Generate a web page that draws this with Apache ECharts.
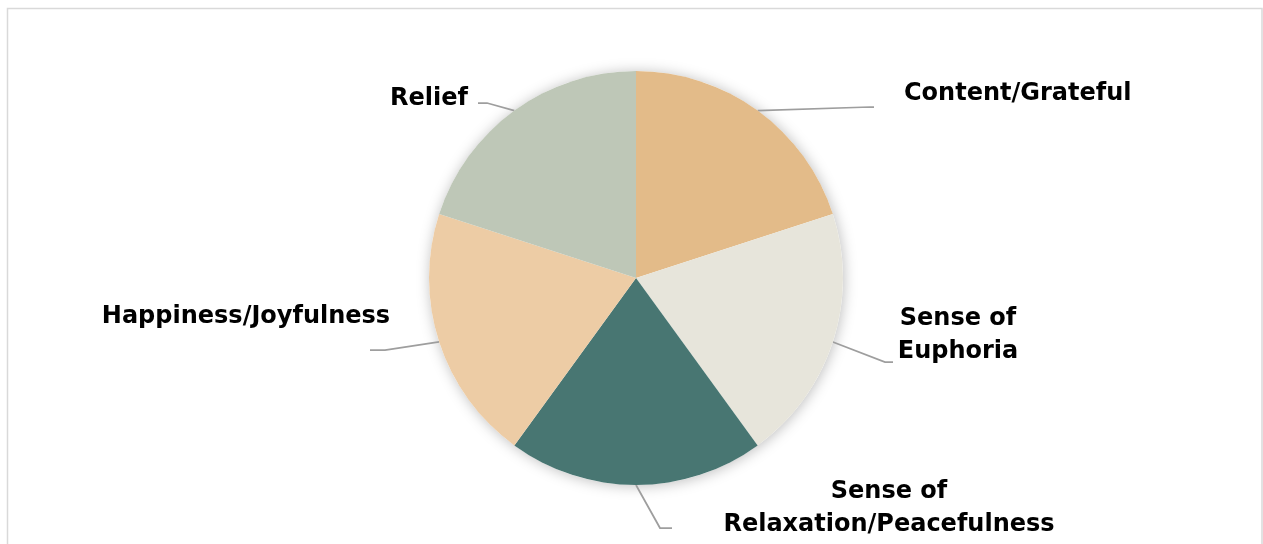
<!DOCTYPE html>
<html>
<head>
<meta charset="utf-8">
<script src="https://cdn.jsdelivr.net/npm/echarts@6/dist/echarts.min.js"></script>
<style>
  html, body { margin: 0; padding: 0; background: #ffffff; }
  #chart { width: 1263px; height: 544px; }
</style>
</head>
<body>
<div id="chart"></div>
<script>
// Emotions reported, equal shares
const categories = [
  'Content/Grateful',
  'Sense of Euphoria',
  'Sense of Relaxation/Peacefulness',
  'Happiness/Joyfulness',
  'Relief'
];
const shares = [20, 20, 20, 20, 20];
const sliceColors = ['#E3BB89', '#E7E5DB', '#487672', '#EDCCA5', '#BEC7B7'];

// Pie geometry
const PIE_CX = 636;
const PIE_CY = 278;
const PIE_R = 207;

// Callout placement per slice, relative to the pie centre:
// elbow of the leader line, its end, and the anchor of the text block.
const callouts = [
  { elbow: [234, -171], end: [238, -171], text: [268, -184], align: 'left' },
  { elbow: [249, 84],   end: [257, 84],   text: [322, 57],   align: 'center' },
  { elbow: [24, 250],   end: [36, 250],   text: [253, 230],  align: 'center' },
  { elbow: [-251, 72],  end: [-266, 72],  text: [-390, 39],  align: 'center' },
  { elbow: [-149, -175],end: [-158, -175],text: [-168, -179],align: 'right' }
];

const chart = echarts.init(document.getElementById('chart'));

chart.setOption({
  backgroundColor: '#ffffff',
  animation: false,
  graphic: [{
    type: 'rect',
    silent: true,
    shape: { x: 7.5, y: 8.5, width: 1254.5, height: 560 },
    style: { fill: 'none', stroke: '#D9D9D9', lineWidth: 1.5 }
  }],
  series: [
    {
      // soft shadow under the whole pie
      type: 'pie',
      silent: true,
      z: 1,
      center: [PIE_CX, PIE_CY],
      radius: PIE_R,
      label: { show: false },
      labelLine: { show: false },
      itemStyle: {
        color: '#ffffff',
        shadowBlur: 14,
        shadowColor: 'rgba(0,0,0,0.26)',
        shadowOffsetX: 1,
        shadowOffsetY: 1
      },
      data: [{ value: 1, name: '' }]
    },
    {
      type: 'pie',
      z: 2,
      center: [PIE_CX, PIE_CY],
      radius: PIE_R,
      startAngle: 90,
      clockwise: true,
      avoidLabelOverlap: false,
      itemStyle: { borderWidth: 0 },
      data: categories.map((name, i) => ({
        name: name,
        value: shares[i],
        itemStyle: { color: sliceColors[i] }
      })),
      label: {
        show: true,
        position: 'outside',
        formatter: (p) => p.name.replace('Sense of ', 'Sense of\n'),
        fontFamily: 'DejaVu Sans',
        fontWeight: 'bold',
        fontSize: 24,
        lineHeight: 33,
        color: '#000000'
      },
      labelLine: {
        show: true,
        length: 20,
        length2: 10,
        smooth: false,
        lineStyle: { color: '#9E9E9E', width: 1.75 }
      },
      labelLayout: function (params) {
        const c = callouts[params.dataIndex];
        if (!c || !params.labelLinePoints) return {};
        const start = params.labelLinePoints[0];
        return {
          x: PIE_CX + c.text[0],
          y: PIE_CY + c.text[1],
          align: c.align,
          verticalAlign: 'middle',
          labelLinePoints: [
            start,
            [PIE_CX + c.elbow[0], PIE_CY + c.elbow[1]],
            [PIE_CX + c.end[0], PIE_CY + c.end[1]]
          ]
        };
      }
    }
  ]
});
</script>
</body>
</html>
